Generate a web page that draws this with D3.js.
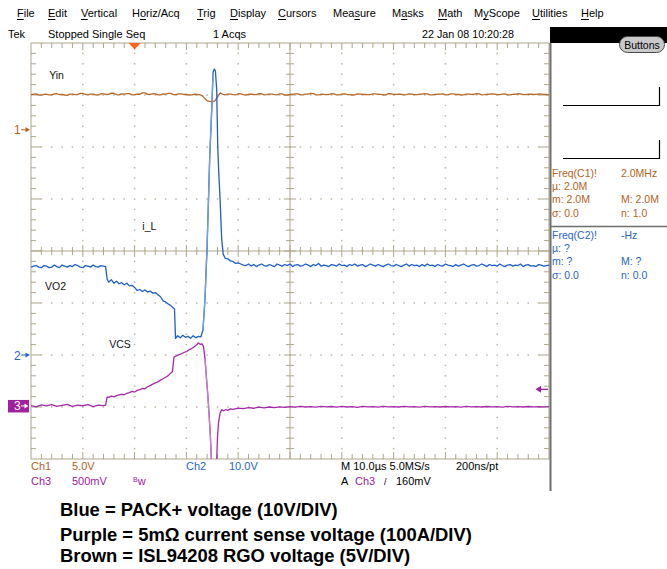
<!DOCTYPE html>
<html>
<head>
<meta charset="utf-8">
<script src="https://cdn.jsdelivr.net/npm/d3@7"></script>
<style>
  body { margin: 0; background: #ffffff; }
  svg { display: block; }
  text { font-family: "Liberation Sans", Arial, sans-serif; }
</style>
</head>
<body>
<svg id="scope" width="667" height="569"></svg>
<script>
// Uniformly sampled stretch of a record: first time (µs), sample spacing (µs), volts
const samples = (t0, dt, volts) => volts.map((v, i) => [t0 + i * dt, v]);

// ---- Acquisition record: [time µs relative to trigger, volts] ----
const ch1Trace = [
  ...samples(-20, 0.5, [
    3.38,3.43,3.45,3.36,3.33,3.41,3.42,3.37,3.36,3.46,
    3.47,3.39,3.40,3.35,3.32,3.44,3.44,3.38,3.39,3.50,
    3.50,3.41,3.37,3.44,3.43,3.36,3.35,3.47,3.46,3.40,
    3.41,3.53,3.52,3.39,3.36,3.45,3.44,3.49,3.48,3.37,
    3.38,3.44,3.42,3.56,3.55,3.41,3.40,3.47,3.46,3.36,
    3.37,3.45,3.43,3.51,3.50,3.38,3.39,3.46,3.45,3.40,
    3.41,3.35,3.36,3.42,3.40]),
  [12.5,3.38],[13,3.30],[13.5,3.05],[14,2.80],[14.5,2.74],[15,2.70],[15.5,2.78],[16,3.15],[16.5,3.55],[17,3.42],
  ...samples(17.5, 0.5, [
    3.37,3.44,3.43,3.38,3.36,3.47,3.45,3.39,3.35,3.42,
    3.43,3.40,3.39,3.48,3.47,3.37,3.38,3.43,3.44,3.39,
    3.36,3.46,3.45,3.34,3.35,3.41,3.42,3.45,3.46,3.38,
    3.37,3.43,3.44,3.50,3.49,3.36,3.37,3.42,3.41,3.39,
    3.40,3.47,3.46,3.37,3.36,3.44,3.45,3.40,3.39,3.35,
    3.36,3.46,3.44,3.41,3.40,3.38,3.39,3.45,3.46,3.42,
    3.41,3.36,3.35,3.48,3.47,3.40,3.41,3.43,3.42,3.37,
    3.38,3.45,3.44,3.39,3.38,3.42,3.43,3.47,3.46,3.36,
    3.37,3.41,3.42,3.44,3.45,3.38,3.37,3.46,3.45,3.40,
    3.41,3.35,3.36,3.43,3.44,3.41,3.40,3.48,3.47,3.37,
    3.38,3.42,3.43,3.45,3.44,3.39,3.38,3.44,3.45,3.36,
    3.37,3.41,3.42,3.47,3.46,3.38,3.39,3.43,3.42,3.40,
    3.41,3.45,3.44,3.41,3.40,3.36])
];
const ch2Trace = [
  ...samples(-20, 0.5, [
    16.9,17.1,17.2,16.9,16.8,17.2,17.1,16.8,16.9,17.3,
    17.0,16.8,17.3,17.1,16.9,17.2,17.0,17.4,17.2,16.9,
    16.8,17.2,17.1,16.9,17.3,17.0,16.9,17.2,17.1]),
  [-5.6,17.0],[-5.3,14.6],[-5.0,14.0],[-4.5,14.5],[-4,13.8],
  [-3.5,14.2],[-3,13.7],[-2.5,13.9],[-2,13.5],[-1.5,13.8],[-1,13.3],[-0.5,13.4],[0,13.0],[0.5,12.4],[1,12.6],
  [1.5,12.2],[2,12.5],[2.5,12.1],[3,12.3],[3.5,11.9],[4,12.0],[4.5,11.6],[5,11.2],[5.5,10.4],[6,10.2],
  [6.5,9.8],[7,9.5],[7.5,9.0],[7.7,8.9],[7.9,3.2],[8.3,3.7],[8.8,3.3],[9.3,3.8],[9.8,3.4],[10.3,3.6],
  [10.8,3.2],[11.3,3.7],[11.8,3.3],[12.3,3.6],[12.8,3.5],[13.2,4.8],[13.6,11],[14.0,21],[14.5,38],[14.9,47.5],
  [15.15,54.4],[15.4,55.0],[15.6,54.6],[15.85,51],[16.05,40],[16.25,35],[16.5,30],[16.8,22.5],[17.1,19.4],[17.5,18.6],
  [18,18.5],[18.5,18.1],[19,18.0],[19.5,17.6],[20,17.7],
  ...samples(20.5, 0.5, [
    17.5,17.3,17.2,17.5,17.1,17.4,17.0,17.3,17.5,17.2,
    17.1,17.4,17.2,17.0,17.5,17.3,17.1,17.4,17.2,17.5,
    17.0,17.3,17.4,17.1,17.2,17.5,17.3,17.0,17.4,17.2,
    17.6,17.1,17.3,17.2,17.0,17.4,17.3,17.1,17.5,17.2,
    17.3,17.0,17.4,17.2,17.5,17.1,17.3,17.4,17.0,17.2,
    17.5,17.3,17.1,17.4,17.2,17.0,17.3,17.5,17.2,17.1,
    17.4,17.2,17.0,17.3,17.5,17.1,17.4,17.2,17.3,17.0,
    17.4,17.1,17.5,17.2,17.3,17.0,17.4,17.2,17.1,17.5,
    17.3,17.2,17.0,17.4,17.1,17.3,17.5,17.2,17.0,17.3,
    17.4,17.1,17.2,17.5,17.3,17.0,17.4,17.2,17.3,17.1,
    17.5,17.2,17.0,17.3,17.4,17.1,17.3,17.2,17.5,17.0,
    17.3,17.4,17.1,17.2,17.0,17.4,17.3,17.1,17.2,17.3])
];
const ch3Trace = [
  [-20,0.004],[-19,-0.008],[-18,0.010],[-17,0.000],[-16,0.012],[-15,-0.005],[-14,0.006],[-13,0.015],[-12,-0.004],[-11,0.008],
  [-10,0.002],[-9,0.013],[-8,-0.006],[-7,0.009],[-6,0.003],[-5.6,0.008],[-5.3,0.085],[-5,0.082],[-4.5,0.095],[-4,0.088],
  [-3.5,0.100],[-3,0.106],[-2.5,0.112],[-2,0.108],[-1.5,0.122],[-1,0.128],[-0.5,0.140],[0,0.134],[0.5,0.150],[1,0.158],
  [1.5,0.168],[2,0.165],[2.5,0.185],[3,0.196],[3.5,0.210],[4,0.222],[4.5,0.232],[5,0.248],[5.5,0.262],[6,0.276],
  [6.5,0.292],[7,0.318],[7.3,0.330],[7.6,0.470],[8,0.480],[8.5,0.492],[9,0.500],[9.5,0.514],[10,0.522],[10.5,0.540],
  [11,0.552],[11.5,0.570],[12,0.588],[12.3,0.605],[12.7,0.592],[13.0,0.598],[13.3,0.570],[13.6,0.450],[13.9,0.250],[14.2,0.060],
  [14.6,-0.260],[14.9,-0.600],[15.2,-0.820],[15.5,-0.860],[15.8,-0.600],[16.0,-0.300],[16.2,-0.160],[16.5,-0.070],[16.8,-0.036],[17.2,-0.046],
  [17.6,-0.034],[18,-0.042],[18.5,-0.028],[19,-0.033],[20,-0.020],[21,-0.026],[22,-0.015],[23,-0.022],[24,-0.012],[25,-0.018],
  [26,-0.010],[27,-0.016],[28,-0.008],[29,-0.014],[30,-0.006],[31,-0.012],[32,-0.004],[33,-0.010],[34,-0.006],[35,-0.012],
  [36,-0.003],[37,-0.009],[38,-0.005],[39,-0.011],[40,-0.004],[41,-0.010],[42,-0.006],[43,-0.013],[44,-0.004],[45,-0.008],
  [46,-0.006],[47,-0.012],[48,-0.003],[49,-0.009],[50,-0.006],[51,-0.010],[52,-0.004],[53,-0.008],[54,-0.007],[55,-0.012],
  [56,-0.004],[57,-0.009],[58,-0.006],[59,-0.010],[60,-0.005],[61,-0.008],[62,-0.006],[63,-0.011],[64,-0.004],[65,-0.009],
  [66,-0.006],[67,-0.010],[68,-0.005],[69,-0.008],[70,-0.006],[71,-0.011],[72,-0.004],[73,-0.009],[74,-0.006],[75,-0.010],
  [76,-0.005],[77,-0.008],[78,-0.006],[79,-0.009],[80,-0.006]
];

// ---- Scope settings ----
const timeWindow = [-20, 80];          // µs, 10 µs/div, trigger 2 div from left
const voltsPerDiv = { ch1: 5, ch2: 10, ch3: 0.5 };
const positionDiv = { ch1: 2.33, ch2: -2.0, ch3: -2.98 };
const triggerLevel = 0.16;              // V on Ch3

// ---- Screen text ----
const menuLabels  = ["File","Edit","Vertical","Horiz/Acq","Trig","Display","Cursors","Measure","Masks","Math","MyScope","Utilities","Help"];
const menuHotkeys = [0,0,0,1,0,0,0,3,1,0,1,0,0];
const traceLabels = [
  { text: "Yin", t: -16.5, div: 3.30 },
  { text: "i_L", t: 1.5,   div: 0.41 },
  { text: "VO2", t: -17.3, div: -0.75 },
  { text: "VCS", t: -4.9,  div: -1.87 }
];
const meas1 = [["Freq(C1)!","2.0MHz"],["µ: 2.0M",""],["m: 2.0M","M: 2.0M"],["σ: 0.0","n: 1.0"]];
const meas2 = [["Freq(C2)!","-Hz"],["µ: ?",""],["m: ?","M: ?"],["σ: 0.0","n: 0.0"]];
const notes = [
  "Blue = PACK+ voltage (10V/DIV)",
  "Purple = 5mΩ current sense voltage (100A/DIV)",
  "Brown = ISL94208 RGO voltage (5V/DIV)"
];

// ---- Layout / style ----
const menuX = [17,48,81,132,197,230,278,333,392,438,474,532,581];
const plot = { left: 31, right: 549, top: 43, bottom: 459 };
const col = {
  grat: "#aea58b", dots: "#bdb6a3", panel: "#6e6e6e",
  ch1: "#b5682a", ch1Text: "#b3621c",
  ch2: "#1f5ec6", ch2Light: "#6f9fe2", ch2Text: "#2764c4",
  ch3: "#a42aa8", ch3Light: "#c77fcb", ch3Text: "#a0209e",
  trig: "#ff6418"
};

const svg = d3.select("#scope");
const x = d3.scaleLinear().domain(timeWindow).range([plot.left, plot.right]);
const yDiv = d3.scaleLinear().domain([-4, 4]).range([plot.bottom, plot.top]);
const yCh = ch => v => yDiv(v / voltsPerDiv[ch] + positionDiv[ch]);

// ---- Menu bar ----
const menu = svg.append("g").attr("font-size", 11).attr("fill", "#000");
menuLabels.forEach((lab, i) => {
  const t = menu.append("text").attr("x", menuX[i]).attr("y", 17).text(lab);
  const ext = t.node().getExtentOfChar(menuHotkeys[i]);
  menu.append("line")
    .attr("x1", ext.x).attr("x2", ext.x + ext.width)
    .attr("y1", 19.5).attr("y2", 19.5)
    .attr("stroke", "#000").attr("stroke-width", 1);
});

// ---- Status line ----
const status = svg.append("g").attr("font-size", 11).attr("fill", "#000");
status.append("text").attr("x", 8).attr("y", 38).text("Tek");
status.append("text").attr("x", 48).attr("y", 38).text("Stopped  Single Seq");
status.append("text").attr("x", 213).attr("y", 38).text("1 Acqs");
status.append("text").attr("x", 422).attr("y", 38)
  .attr("textLength", 92).attr("lengthAdjust", "spacingAndGlyphs").text("22 Jan 08 10:20:28");
svg.append("rect").attr("x", 550).attr("y", 27).attr("width", 117).attr("height", 16).attr("fill", "#000");
svg.append("rect").attr("x", 619.5).attr("y", 36.5).attr("width", 45).attr("height", 16).attr("rx", 8)
  .attr("fill", "#c9c9c9").attr("stroke", "#4a4a4a");
svg.append("text").attr("x", 642).attr("y", 48.5).attr("text-anchor", "middle")
  .attr("font-size", 10.5).text("Buttons");

// ---- Graticule ----
const g = svg.append("g");
const divW = (plot.right - plot.left) / 10, divH = (plot.bottom - plot.top) / 8;
const cx = plot.left + 5 * divW, cy = plot.top + 4 * divH;
// dotted major grid
for (let i = 1; i < 10; i++) {
  if (i === 5) continue;
  const gx = plot.left + i * divW;
  for (let k = 1; k < 40; k++) {
    if (k % 5 === 0) continue;
    g.append("rect").attr("x", gx - 0.75).attr("y", plot.top + k * divH / 5 - 0.75)
      .attr("width", 1.5).attr("height", 1.5).attr("fill", col.dots);
  }
}
for (let j = 1; j < 8; j++) {
  if (j === 4) continue;
  const gy = plot.top + j * divH;
  for (let k = 1; k < 50; k++) {
    g.append("rect").attr("x", plot.left + k * divW / 5 - 0.75).attr("y", gy - 0.75)
      .attr("width", 1.5).attr("height", 1.5).attr("fill", col.dots);
  }
}
// centre cross and border, with minor ticks
g.append("line").attr("x1", plot.left).attr("x2", plot.right).attr("y1", cy).attr("y2", cy).attr("stroke", col.grat);
g.append("line").attr("x1", cx).attr("x2", cx).attr("y1", plot.top).attr("y2", plot.bottom).attr("stroke", col.grat);
for (let k = 1; k < 50; k++) {
  const tx = plot.left + k * divW / 5, len = k % 5 === 0 ? 6 : 4;
  g.append("line").attr("x1", tx).attr("x2", tx).attr("y1", cy - len).attr("y2", cy + len).attr("stroke", col.grat);
  g.append("line").attr("x1", tx).attr("x2", tx).attr("y1", plot.top).attr("y2", plot.top + (k % 5 === 0 ? 7 : 5)).attr("stroke", col.grat);
  g.append("line").attr("x1", tx).attr("x2", tx).attr("y1", plot.bottom).attr("y2", plot.bottom - (k % 5 === 0 ? 7 : 5)).attr("stroke", col.grat);
}
for (let k = 1; k < 40; k++) {
  const ty = plot.top + k * divH / 5, major = k % 5 === 0, len = major ? 6 : 4;
  g.append("line").attr("x1", cx - len).attr("x2", cx + len).attr("y1", ty).attr("y2", ty).attr("stroke", col.grat);
  g.append("line").attr("x1", plot.left).attr("x2", plot.left + (major ? 10 : 5)).attr("y1", ty).attr("y2", ty).attr("stroke", col.grat);
  g.append("line").attr("x1", plot.right).attr("x2", plot.right - (major ? 10 : 5)).attr("y1", ty).attr("y2", ty).attr("stroke", col.grat);
}
g.append("rect").attr("x", plot.left).attr("y", plot.top)
  .attr("width", plot.right - plot.left).attr("height", plot.bottom - plot.top)
  .attr("fill", "none").attr("stroke", col.grat);

// ---- Traces ----
svg.append("clipPath").attr("id", "screen").append("rect")
  .attr("x", plot.left).attr("y", plot.top)
  .attr("width", plot.right - plot.left + 1).attr("height", plot.bottom - plot.top);
const traces = svg.append("g").attr("clip-path", "url(#screen)").attr("fill", "none")
  .attr("stroke-width", 1.3).attr("stroke-linejoin", "round");

function drawTrace(data, ch, color, light, lightDir) {
  const yv = yCh(ch);
  traces.append("path").datum(data)
    .attr("d", d3.line().x(d => x(d[0])).y(d => yv(d[1])))
    .attr("stroke", color);
  // fast edges in the leading direction are drawn in a paler shade
  if (light) {
    for (let i = 1; i < data.length; i++) {
      const dy = yv(data[i][1]) - yv(data[i - 1][1]);
      if (Math.abs(dy) > 14 && Math.sign(dy) === lightDir) {
        traces.append("line")
          .attr("x1", x(data[i - 1][0])).attr("y1", yv(data[i - 1][1]))
          .attr("x2", x(data[i][0])).attr("y2", yv(data[i][1]))
          .attr("stroke", light);
      }
    }
  }
}
drawTrace(ch1Trace, "ch1", col.ch1, null, 0);
drawTrace(ch3Trace, "ch3", col.ch3, col.ch3Light, 1);
drawTrace(ch2Trace, "ch2", col.ch2, col.ch2Light, -1);

// trace annotations
svg.append("g").attr("font-size", 10.5).attr("fill", "#111")
  .selectAll("text").data(traceLabels).join("text")
  .attr("x", d => x(d.t)).attr("y", d => yDiv(d.div)).text(d => d.text);

// ---- Ground markers ----
function groundMarker(ch, color, label) {
  const yy = yDiv(positionDiv[ch]);
  svg.append("text").attr("x", 14).attr("y", yy + 4.5).attr("font-size", 12).attr("fill", color).text(label);
  svg.append("line").attr("x1", 21).attr("x2", 27).attr("y1", yy).attr("y2", yy).attr("stroke", color);
  svg.append("path").attr("d", `M${30},${yy} L${25.5},${yy - 2.5} L${25.5},${yy + 2.5} Z`).attr("fill", color);
}
groundMarker("ch1", col.ch1Text, "1");
groundMarker("ch2", col.ch2Text, "2");
{
  const yy = yDiv(positionDiv.ch3);
  svg.append("rect").attr("x", 8).attr("y", yy - 6).attr("width", 21).attr("height", 12.5).attr("fill", col.ch3Text);
  svg.append("text").attr("x", 14).attr("y", yy + 4.5).attr("font-size", 12).attr("fill", "#fff").text("3");
  svg.append("line").attr("x1", 21).attr("x2", 26).attr("y1", yy).attr("y2", yy).attr("stroke", "#fff");
  svg.append("path").attr("d", `M${28.5},${yy} L${24.5},${yy - 2.5} L${24.5},${yy + 2.5} Z`).attr("fill", "#fff");
}
// trigger position (top) and trigger level (right)
svg.append("path").attr("d", `M${x(0) - 6},${plot.top} L${x(0) + 6},${plot.top} L${x(0)},${plot.top + 6.5} Z`).attr("fill", col.trig);
{
  const ty = yCh("ch3")(triggerLevel);
  svg.append("line").attr("x1", 539).attr("x2", 548).attr("y1", ty).attr("y2", ty).attr("stroke", col.ch3Text).attr("stroke-width", 1.3);
  svg.append("path").attr("d", `M${535.5},${ty} L${541},${ty - 3.5} L${541},${ty + 3.5} Z`).attr("fill", col.ch3Text);
}

// ---- Right panel ----
svg.append("line").attr("x1", 550.5).attr("x2", 550.5).attr("y1", 43).attr("y2", 491)
  .attr("stroke", col.panel).attr("stroke-width", 2);
svg.append("path").attr("d", "M563,105.5 H659.5 V87").attr("fill", "none").attr("stroke", "#000").attr("stroke-width", 1.2);
svg.append("path").attr("d", "M563,158.5 H659.5 V140").attr("fill", "none").attr("stroke", "#000").attr("stroke-width", 1.2);
svg.append("line").attr("x1", 551).attr("x2", 667).attr("y1", 226.5).attr("y2", 226.5).attr("stroke", col.panel).attr("stroke-width", 1.5);
function measBlock(rows, y0, color) {
  const gg = svg.append("g").attr("font-size", 10.5).attr("fill", color);
  rows.forEach((r, i) => {
    gg.append("text").attr("x", 552).attr("y", y0 + i * 13.2).text(r[0]);
    if (r[1]) gg.append("text").attr("x", 621).attr("y", y0 + i * 13.2).text(r[1]);
  });
}
measBlock(meas1, 177, col.ch1Text);
measBlock(meas2, 239, col.ch2Text);

// ---- Channel readouts ----
const ro = svg.append("g").attr("font-size", 11);
ro.append("text").attr("x", 31).attr("y", 470).attr("fill", col.ch1Text).text("Ch1");
ro.append("text").attr("x", 72).attr("y", 470).attr("fill", col.ch1Text).text(voltsPerDiv.ch1.toFixed(1) + "V");
ro.append("text").attr("x", 186).attr("y", 470).attr("fill", col.ch2Text).text("Ch2");
ro.append("text").attr("x", 229).attr("y", 470).attr("fill", col.ch2Text).text(voltsPerDiv.ch2.toFixed(1) + "V");
ro.append("text").attr("x", 31).attr("y", 485).attr("fill", col.ch3Text).text("Ch3");
ro.append("text").attr("x", 72).attr("y", 485).attr("fill", col.ch3Text).text(voltsPerDiv.ch3 * 1000 + "mV");
{
  const bw = ro.append("text").attr("x", 133).attr("y", 485).attr("fill", col.ch3Text);
  bw.append("tspan").attr("font-size", 7).attr("dy", -3).text("B");
  bw.append("tspan").attr("font-size", 11).attr("dy", 3).text("w");
}
ro.append("text").attr("x", 341).attr("y", 470).attr("fill", "#000").text("M 10.0µs 5.0MS/s");
ro.append("text").attr("x", 456).attr("y", 470).attr("fill", "#000").text("200ns/pt");
ro.append("text").attr("x", 341).attr("y", 485).attr("fill", "#000").text("A");
ro.append("text").attr("x", 355).attr("y", 485).attr("fill", col.ch3Text).text("Ch3");
ro.append("text").attr("x", 384).attr("y", 485).attr("fill", "#000").attr("font-size", 9).text("/");
ro.append("text").attr("x", 396).attr("y", 485).attr("fill", "#000").text(triggerLevel * 1000 + "mV");

// ---- Notes ----
svg.append("g").attr("font-size", 18.4).attr("font-weight", "bold").attr("fill", "#000")
  .selectAll("text").data(notes).join("text")
  .attr("x", 60).attr("y", (d, i) => [516, 541, 562][i]).text(d => d);
</script>
</body>
</html>
